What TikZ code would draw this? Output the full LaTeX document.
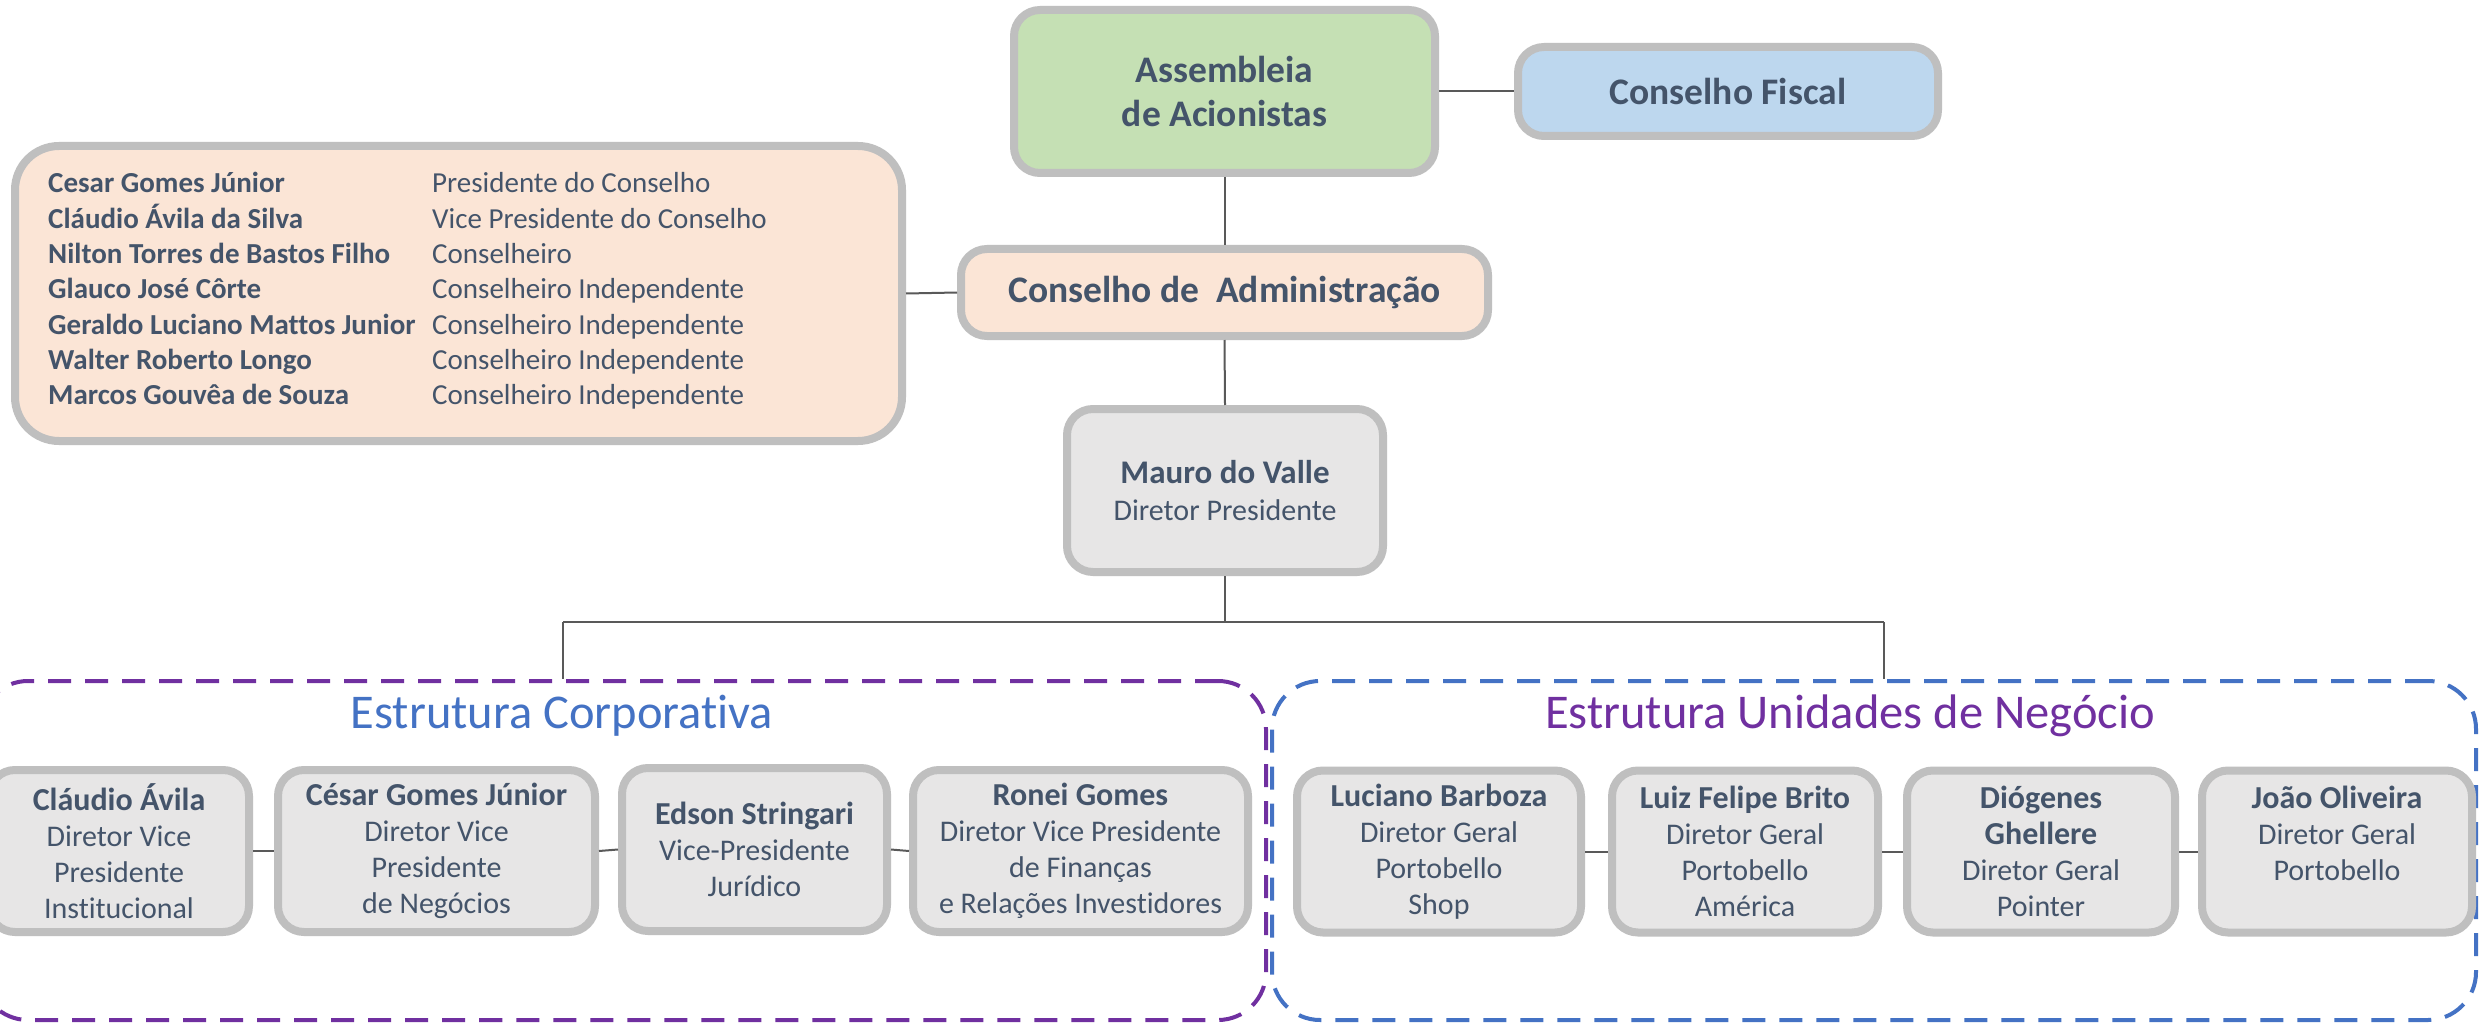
\documentclass[tikz,border=0pt]{standalone}
\usepackage{fontspec}
\setmainfont{Carlito}[Ligatures=NoCommon]
\definecolor{txt}{HTML}{44546A}
\definecolor{bordergray}{HTML}{BFBFBF}
\definecolor{boxgray}{HTML}{E7E6E6}
\definecolor{conngray}{HTML}{595959}
\definecolor{green1}{HTML}{C5E0B4}
\definecolor{blue1}{HTML}{BDD7EE}
\definecolor{peach}{HTML}{FBE5D6}
\definecolor{hblue}{HTML}{4472C4}
\definecolor{hpurple}{HTML}{7030A0}
\newcommand{\nm}[1]{{\bfseries\fontsize{32}{36}\selectfont #1}}
\tikzset{
  box/.style={draw=bordergray, line width=8pt, rounded corners=26pt, fill=boxgray,
    text=txt, align=center, inner sep=0pt},
  pbox/.style={box, font=\fontsize{30}{36}\selectfont, minimum height=162pt},
  tbox/.style={box, font=\bfseries\fontsize{37.5}{44}\selectfont},
  conn/.style={draw=conngray, line width=2pt},
  group/.style={line width=4pt, dash pattern=on 23pt off 14pt, rounded corners=48pt,
    inner sep=0pt, minimum height=339pt},
  head/.style={font=\fontsize{48.5}{56}\selectfont, anchor=base, inner sep=0pt},
  row/.style={font=\fontsize{29}{35}\selectfont, text=txt, anchor=base west, inner sep=0pt},
}
\begin{document}
\begin{tikzpicture}[x=1pt,y=-1pt]
\useasboundingbox (0,0) rectangle (2486,1024);
\fill[white] (0,0) rectangle (2486,1024);

% group frames
\node[group, draw=hpurple, minimum width=1286pt] (corp) at (623,850.5) {};
\node[group, draw=hblue, minimum width=1204pt] (neg) at (1874,850.5) {};
\node[head, text=hblue] (hcorp) at (562,728) {Estrutura Corporativa};
\node[head, text=hpurple] (hneg) at (1850,728) {Estrutura Unidades de Negócio};

% top boxes
\node[tbox, fill=green1, minimum width=421pt, minimum height=163pt] (asm) at (1224.5,91.5) {Assembleia\\de Acionistas};
\node[tbox, fill=blue1, minimum width=420pt, minimum height=89pt] (fis) at (1728,91.5) {Conselho Fiscal};
\node[tbox, fill=peach, minimum width=527pt, minimum height=87pt] (cda) at (1224.5,292.5) {Conselho de\ \ Administração};
\node[box, fill=peach, rounded corners=44pt, minimum width=887pt, minimum height=295pt] (board) at (458.5,293.5) {};

\foreach \n/\r [count=\i] in {Cesar Gomes Júnior/Presidente do Conselho,
  Cláudio Ávila da Silva/Vice Presidente do Conselho,
  Nilton Torres de Bastos Filho/Conselheiro,
  Glauco José Côrte/Conselheiro Independente,
  Geraldo Luciano Mattos Junior/Conselheiro Independente,
  Walter Roberto Longo/Conselheiro Independente,
  Marcos Gouvêa de Souza/Conselheiro Independente}
  \node[row] (row\i) at (48,{193+35.3*(\i-1)}) {\makebox[384pt][l]{\bfseries \n}\r};

\node[box, minimum width=316pt, minimum height=163pt, font=\fontsize{30}{37}\selectfont] (mauro) at (1225,490.5) {{\bfseries\fontsize{33}{37}\selectfont Mauro do Valle}\\Diretor Presidente};

% bottom row
\node[pbox, minimum width=260pt] (b1) at (119,851) {\nm{Cláudio Ávila}\\Diretor Vice\\Presidente\\Institucional};
\node[pbox, minimum width=317pt] (b2) at (436.5,851) {\nm{César Gomes Júnior}\\Diretor Vice\\Presidente\\de Negócios};
\node[pbox, minimum width=265pt, minimum height=163pt] (b3) at (754.5,849.5) {\nm{Edson Stringari}\\Vice-Presidente\\Jurídico};
\node[pbox, minimum width=335pt] (b4) at (1080.5,851) {\nm{Ronei Gomes}\\Diretor Vice Presidente\\de Finanças\\e Relações Investidores};
\node[pbox, minimum width=284pt] (b5) at (1439,851.5) {\nm{Luciano Barboza}\\Diretor Geral\\Portobello\\Shop};
\node[pbox, minimum width=266pt] (b6) at (1745,851.5) {\nm{Luiz Felipe Brito}\\Diretor Geral\\Portobello\\América};
\node[pbox, minimum width=268pt] (b7) at (2041,851.5) {\nm{Diógenes}\\\nm{Ghellere}\\Diretor Geral\\Pointer};
\node[pbox, minimum width=270pt] (b8) at (2337,851.5) {\nm{João Oliveira}\\Diretor Geral\\Portobello\\\mbox{}};

% connectors
\coordinate (busL) at (563,622);
\coordinate (busR) at (1884,622);
\draw[conn] (asm.east) -- (fis.west);
\draw[conn] (asm.south) -- (cda.north);
\draw[conn] (board.east) -- (cda.west);
\draw[conn] (cda.south) -- (mauro.north);
\draw[conn] (mauro.south) -- (mauro.south |- busL);
\draw[conn] (busL) -- (busR);
\draw[conn] (busL) -- (busL |- corp.north);
\draw[conn] (busR) -- (busR |- neg.north);
\draw[conn] (b1.east) -- (b2.west);
\draw[conn] (b2.east) -- (b3.west);
\draw[conn] (b3.east) -- (b4.west);
\draw[conn] (b5.east) -- (b6.west);
\draw[conn] (b6.east) -- (b7.west);
\draw[conn] (b7.east) -- (b8.west);
\end{tikzpicture}
\end{document}
